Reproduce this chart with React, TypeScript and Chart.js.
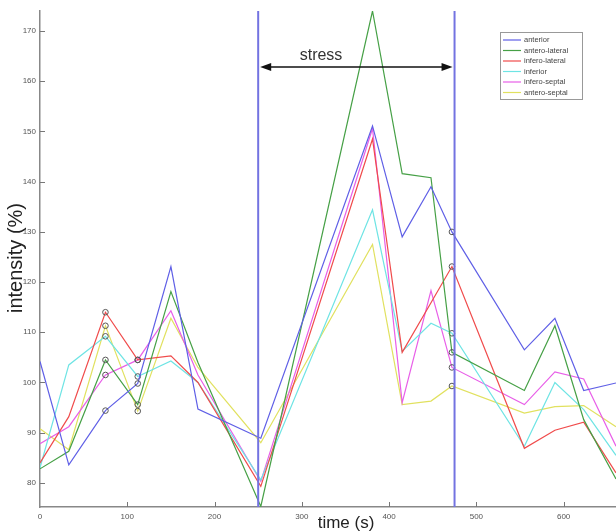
import React, { useEffect, useRef } from 'react';
import { Chart, registerables } from 'chart.js';

Chart.register(...registerables);

// ---- data ----
const TIME = [0, 33, 75, 112, 150, 181, 253, 381, 415, 448, 472, 555, 590, 623, 660];

const ANTERIOR = [104.2, 83.6, 94.4, 99.8, 123.1, 94.7, 88.9, 151.1, 129.0, 139.0, 130.0, 106.5, 112.8, 98.4, 99.9];
const ANTERO_LATERAL = [82.8, 86.3, 104.5, 95.6, 118.1, 104.0, 75.3, 174.0, 141.6, 140.8, 106.0, 98.4, 111.3, 92.6, 80.8];
const INFERO_LATERAL = [84.0, 93.2, 114.0, 104.5, 105.3, 100.0, 79.3, 148.5, 106.0, 115.9, 123.1, 86.9, 90.5, 92.1, 82.0];
const INFERIOR = [83.0, 103.5, 109.2, 101.2, 104.3, 100.0, 80.6, 134.4, 106.2, 111.8, 109.8, 87.3, 100.0, 94.6, 85.5];
const INFERO_SEPTAL = [87.8, 91.2, 101.5, 104.5, 114.3, 101.5, 80.3, 150.6, 96.0, 118.3, 103.0, 95.6, 102.1, 100.7, 87.3];
const ANTERO_SEPTAL = [90.8, 86.6, 111.3, 94.3, 112.8, 103.0, 88.0, 127.5, 95.6, 96.3, 99.3, 93.9, 95.2, 95.4, 91.2];

const SERIES_NAMES = ['anterior', 'antero-lateral', 'infero-lateral', 'inferior', 'infero-septal', 'antero-septal'];
const SERIES_VALUES = [ANTERIOR, ANTERO_LATERAL, INFERO_LATERAL, INFERIOR, INFERO_SEPTAL, ANTERO_SEPTAL];
const SERIES_COLORS = [
  'rgb(95,95,230)',
  'rgb(70,160,70)',
  'rgb(240,75,75)',
  'rgb(110,228,228)',
  'rgb(232,95,232)',
  'rgb(225,225,95)',
];

const MARKED_TIMES = [75, 112, 472];
const X_TICKS = [0, 100, 200, 300, 400, 500, 600];
const Y_TICKS = [80, 90, 100, 110, 120, 130, 140, 150, 160, 170];
const X_MIN = 0;
const X_MAX = 660;
const Y_MIN = 75.2;
const Y_MAX = 174.0;
const STRESS_START = 250;
const STRESS_END = 475;
const STRESS_LABEL = 'stress';
const X_TITLE = 'time (s)';
const Y_TITLE = 'intensity (%)';

const overlayPlugin = {
  id: 'overlay',
  afterDatasetsDraw(chart: any) {
    const { ctx, chartArea, scales } = chart;
    const xs = scales.x;
    const ys = scales.y;
    ctx.save();

    // inward tick marks
    ctx.strokeStyle = '#777';
    ctx.lineWidth = 1;
    X_TICKS.forEach((t) => {
      if (t === X_MIN) return;
      const px = Math.round(xs.getPixelForValue(t)) + 0.5;
      ctx.beginPath();
      ctx.moveTo(px, chartArea.bottom);
      ctx.lineTo(px, chartArea.bottom - 5);
      ctx.stroke();
    });
    Y_TICKS.forEach((v) => {
      const py = Math.round(ys.getPixelForValue(v)) + 0.5;
      ctx.beginPath();
      ctx.moveTo(chartArea.left, py);
      ctx.lineTo(chartArea.left + 5, py);
      ctx.stroke();
    });

    // stress boundaries
    ctx.strokeStyle = 'rgb(115,115,225)';
    ctx.lineWidth = 2;
    [STRESS_START, STRESS_END].forEach((t) => {
      const px = xs.getPixelForValue(t);
      ctx.beginPath();
      ctx.moveTo(px, chartArea.top);
      ctx.lineTo(px, chartArea.bottom);
      ctx.stroke();
    });

    // double arrow
    const x1 = xs.getPixelForValue(STRESS_START) + 2;
    const x2 = xs.getPixelForValue(STRESS_END) - 2;
    const ya = chartArea.top + 56;
    ctx.strokeStyle = '#111';
    ctx.fillStyle = '#111';
    ctx.lineWidth = 1.3;
    ctx.beginPath();
    ctx.moveTo(x1 + 8, ya);
    ctx.lineTo(x2 - 8, ya);
    ctx.stroke();
    ctx.beginPath();
    ctx.moveTo(x1, ya);
    ctx.lineTo(x1 + 11, ya - 4);
    ctx.lineTo(x1 + 11, ya + 4);
    ctx.closePath();
    ctx.fill();
    ctx.beginPath();
    ctx.moveTo(x2, ya);
    ctx.lineTo(x2 - 11, ya - 4);
    ctx.lineTo(x2 - 11, ya + 4);
    ctx.closePath();
    ctx.fill();

    ctx.fillStyle = '#333';
    ctx.font = '16px "Liberation Sans", Arial, sans-serif';
    ctx.textAlign = 'center';
    ctx.textBaseline = 'alphabetic';
    ctx.fillText(STRESS_LABEL, xs.getPixelForValue(322), ya - 7);

    // legend
    const lx = 500;
    const ly = 32;
    const lw = 82;
    const lh = 67;
    ctx.fillStyle = '#fff';
    ctx.fillRect(lx, ly, lw, lh);
    ctx.strokeStyle = '#999';
    ctx.lineWidth = 1;
    ctx.strokeRect(lx + 0.5, ly + 0.5, lw, lh);
    ctx.font = '7.5px "Liberation Sans", Arial, sans-serif';
    ctx.textAlign = 'left';
    ctx.textBaseline = 'middle';
    SERIES_NAMES.forEach((name, i) => {
      const ry = ly + 8 + i * 10.5;
      ctx.strokeStyle = SERIES_COLORS[i];
      ctx.lineWidth = 1.2;
      ctx.beginPath();
      ctx.moveTo(lx + 3, ry);
      ctx.lineTo(lx + 21, ry);
      ctx.stroke();
      ctx.fillStyle = '#444';
      ctx.fillText(name, lx + 24, ry);
    });

    // axis titles
    ctx.fillStyle = '#222';
    ctx.font = '17px "Liberation Sans", Arial, sans-serif';
    ctx.textAlign = 'center';
    ctx.textBaseline = 'alphabetic';
    ctx.fillText(X_TITLE, 346, 528);
    ctx.save();
    ctx.translate(22, 258);
    ctx.rotate(-Math.PI / 2);
    ctx.font = '20px "Liberation Sans", Arial, sans-serif';
    ctx.fillText(Y_TITLE, 0, 0);
    ctx.restore();

    ctx.restore();
  },
};

export default function App() {
  const canvasRef = useRef<HTMLCanvasElement | null>(null);

  useEffect(() => {
    const canvas = canvasRef.current;
    if (!canvas) return;
    const datasets = SERIES_NAMES.map((name, i) => ({
      label: name,
      data: TIME.map((t, k) => ({ x: t, y: SERIES_VALUES[i][k] })),
      borderColor: SERIES_COLORS[i],
      backgroundColor: SERIES_COLORS[i],
      borderWidth: 1.2,
      tension: 0,
      fill: false,
      pointRadius: TIME.map((t) => (MARKED_TIMES.includes(t) ? 2.8 : 0)),
      pointBorderColor: '#555',
      pointBackgroundColor: 'rgba(0,0,0,0)',
      pointBorderWidth: 1,
      pointHoverRadius: 0,
    }));

    const chart = new Chart(canvas, {
      type: 'line',
      data: { datasets },
      options: {
        animation: false,
        responsive: false,
        devicePixelRatio: 1,
        layout: { padding: { top: 11, left: 0, right: 0, bottom: 0 } },
        plugins: {
          legend: { display: false },
          tooltip: { enabled: false },
        },
        scales: {
          x: {
            type: 'linear',
            min: X_MIN,
            max: X_MAX,
            afterBuildTicks: (s: any) => {
              s.ticks = X_TICKS.map((v) => ({ value: v }));
            },
            afterFit: (s: any) => {
              s.height = 24;
            },
            grid: { display: false, drawTicks: false },
            border: { display: true, color: '#888', width: 1.5 },
            ticks: {
              padding: 5,
              color: '#555',
              font: { size: 8, family: '"Liberation Sans", Arial, sans-serif' },
              maxRotation: 0,
              autoSkip: false,
            },
          },
          y: {
            type: 'linear',
            min: Y_MIN,
            max: Y_MAX,
            afterBuildTicks: (s: any) => {
              s.ticks = Y_TICKS.map((v) => ({ value: v }));
            },
            afterFit: (s: any) => {
              s.width = 40;
            },
            grid: { display: false, drawTicks: false },
            border: { display: true, color: '#888', width: 1.5 },
            ticks: {
              padding: 4,
              color: '#555',
              font: { size: 8, family: '"Liberation Sans", Arial, sans-serif' },
              autoSkip: false,
            },
          },
        },
      },
      plugins: [overlayPlugin],
    } as any);

    return () => {
      chart.destroy();
    };
  }, []);

  return (
    <div style={{ position: 'absolute', left: 0, top: 0, width: 616, height: 531, background: '#fff' }}>
      <canvas ref={canvasRef} width={616} height={531} style={{ display: 'block' }} />
    </div>
  );
}
